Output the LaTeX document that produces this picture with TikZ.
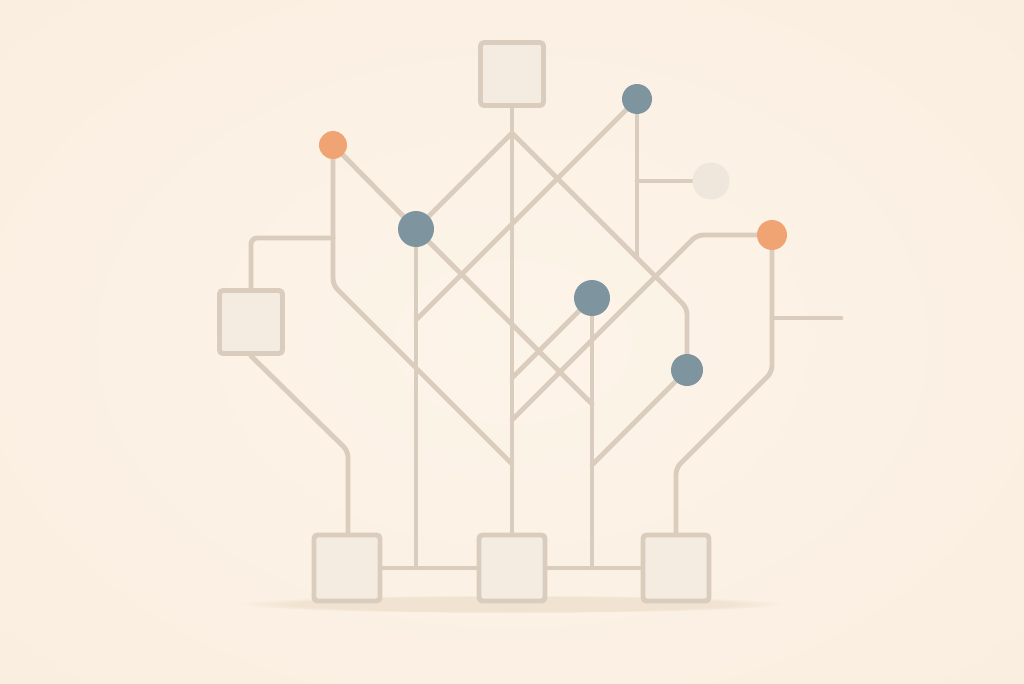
\documentclass[tikz,border=0pt]{standalone}
\usepackage{tikz}
\usetikzlibrary{calc, positioning, fadings}
\definecolor{xpaper}{HTML}{FDF4E9}
\definecolor{xpaperedge}{HTML}{FAEEE0}
\definecolor{xshadow}{HTML}{F1E3D1}
\definecolor{xwire}{HTML}{DACDBD}
\definecolor{xbox}{HTML}{F4ECE1}
\definecolor{xorange}{HTML}{F1A473}
\definecolor{xblue}{HTML}{7E949E}
\definecolor{xpale}{HTML}{EFE7DC}
\pgfdeclarelayer{paper}
\pgfdeclarelayer{background}
\pgfsetlayers{paper,background,main}
\tikzset{
  wire/.style = {draw=xwire, line width=2.8pt, rounded corners=3.5pt, line cap=round},
  block/.style = {draw=xwire, fill=xbox, line width=2.8pt, rounded corners=2pt, minimum size=#1, inner sep=0pt},
  dot/.style n args={2}{circle, fill=#1, minimum size=#2, inner sep=0pt},
}

\begin{document}
\begin{tikzpicture}[x=0.02cm, y=-0.02cm]
  \useasboundingbox (0,0) rectangle (1024,683);
  \begin{pgfonlayer}{paper}
    \shade[inner color=xpaper, outer color=xpaperedge] (-200,-150) rectangle (1224,833);
    \fill[xshadow, path fading=circle with fuzzy edge 20 percent] (512,604) ellipse (270 and 9);
  \end{pgfonlayer}
  % blocks
  \node[block=1.26cm] (T) at (512,74) {};
  \node[block=1.26cm] (L) at (251,322) {};
  \node[block=1.32cm] (B1) at (347,568) {};
  \node[block=1.32cm] (B2) at (512,568) {};
  \node[block=1.32cm] (B3) at (676,568) {};
  % dots
  \node[dot={xorange}{0.56cm}] (O1) at (333,145) {};
  \node[dot={xblue}{0.72cm}] (N1) at (416,229) {};
  \node[dot={xblue}{0.6cm}] (N2) at (637,99) {};
  \node[dot={xpale}{0.74cm}] (P) at (711,181) {};
  \node[dot={xorange}{0.6cm}] (O2) at (772,235) {};
  \node[dot={xblue}{0.72cm}] (N3) at (592,298) {};
  \node[dot={xblue}{0.64cm}] (N4) at (687,370) {};
  % junctions
  \coordinate (tsplit) at (512,133);
  \coordinate (tmid) at (512,464);
  \coordinate (tlow) at (512,420);
  \coordinate (n1cross) at (416,320);
  \coordinate (n1foot) at (416,568);
  \coordinate (n2foot) at (637,258);
  \coordinate (n2tap) at (637,181);
  \coordinate (n3cross) at (592,404);
  \coordinate (n3foot) at (592,568);
  \coordinate (o1tap) at (333,238);
  \coordinate (o2tap) at (772,318);
  \coordinate (o2end) at (841,318);
  \begin{pgfonlayer}{background}
    \draw[wire] (T) -- (B2);
    \draw[wire] (tsplit) -- (N1.center);
    \draw[wire] (tsplit) -- (687,308) -- (N4.center);
    \draw[wire] (N2.center) -- (n1cross);
    \draw[wire] (N2.center) -- (n2foot);
    \draw[wire] (n2tap) -- (P.center);
    \draw[wire] (O1.center) -- (N1.center);
    \draw[wire] (N1.center) -- (n3cross);
    \draw[wire] (O1.center) -- (333,285) -- (tmid);
    \draw[wire] (o1tap) -- (251,238) -- (L.north);
    \draw[wire] (L.south) -- (348,451) -- (348,540);
    \draw[wire] (N1.center) -- (n1foot);
    \draw[wire] (B1) -- (B2);
    \draw[wire] (B2) -- (B3);
    \draw[wire] (O2.center) -- (697,235) -- (tlow);
    \draw[wire] (N3.center) -- (512,378);
    \draw[wire] (N3.center) -- (n3foot);
    \draw[wire] (N4.center) -- (592,465);
    \draw[wire] (O2.center) -- (772,372) -- (676,468) -- (B3.north);
    \draw[wire] (o2tap) -- (o2end);
  \end{pgfonlayer}
\end{tikzpicture}
\end{document}
